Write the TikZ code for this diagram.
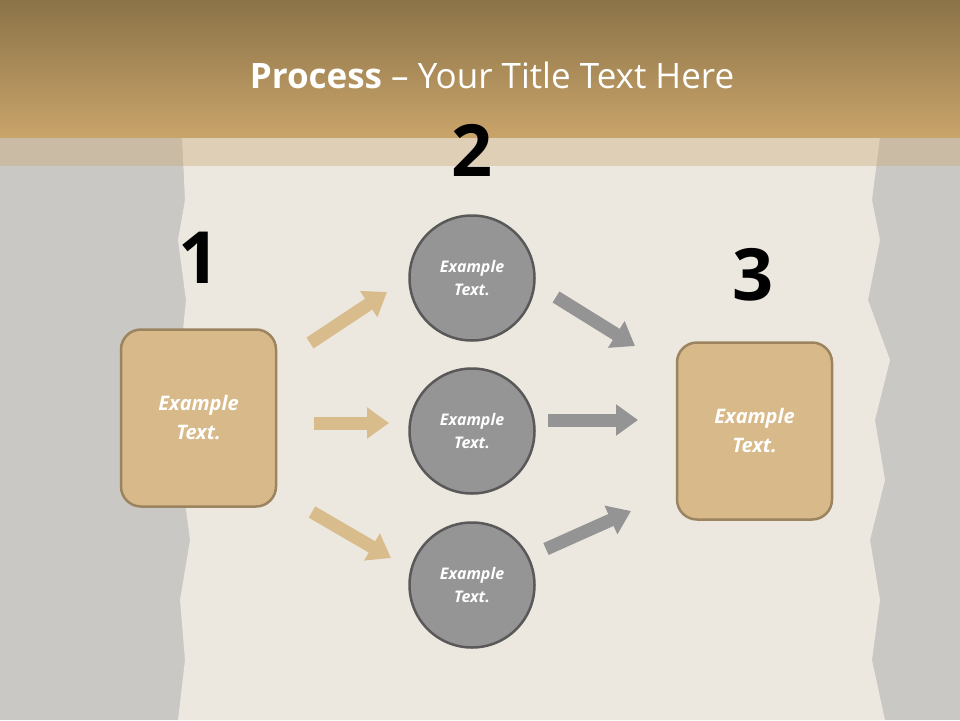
\documentclass[tikz,border=0pt]{standalone}
\usepackage{fontspec}
\setmainfont{Open Sans}
\usetikzlibrary{arrows.meta}
\definecolor{bg}{HTML}{C9C8C4}
\definecolor{paper}{HTML}{ECE7DF}
\definecolor{hdtop}{HTML}{8B7348}
\definecolor{hdbot}{HTML}{C9A46A}
\definecolor{tan}{HTML}{D8B98A}
\definecolor{tanb}{HTML}{9C8460}
\definecolor{arrtan}{HTML}{D9BC8C}
\definecolor{circ}{HTML}{959595}
\definecolor{arrg}{HTML}{949494}
\tikzset{
 box/.style={draw=tanb,line width=2.5pt,fill=tan,rounded corners=20pt,minimum width=155pt,minimum height=177pt,align=center,text=white,font=\bfseries\itshape\fontsize{20}{29}\selectfont},
 circnode/.style={circle,draw=black!65,line width=2.5pt,fill=circ,minimum size=125pt,align=center,text=white,font=\bfseries\itshape\fontsize{16}{23}\selectfont},
 num/.style={font=\bfseries\fontsize{72}{72}\selectfont},
 tarr/.style={line width=13pt,arrtan,-{Triangle[width=30pt,length=22pt]}},
 garr/.style={line width=13pt,arrg,-{Triangle[width=30pt,length=22pt]}},
}
\begin{document}
\begin{tikzpicture}[x=1pt,y=-1pt]
\fill[bg] (0,0) rectangle (960,720);
\fill[paper] (182,137) -- (185,200) -- (178,240) -- (186,300) -- (180,360) -- (188,420) -- (182,480) -- (190,540) -- (180,600) -- (185,660) -- (178,720) -- (885,720) -- (872,660) -- (880,600) -- (870,540) -- (885,480) -- (875,420) -- (890,360) -- (868,300) -- (880,240) -- (872,200) -- (880,137) -- cycle;
\shade[top color=hdtop,bottom color=hdbot] (0,0) rectangle (960,137);
\fill[hdbot,opacity=0.35] (0,137) rectangle (960,166);
\node[text=white,font=\fontsize{35}{40}\selectfont] (title) at (492,75) {\textbf{Process} -- Your Title Text Here};
\node[num] (n1) at (199,258) {1};
\node[num] (n2) at (472,150) {2};
\node[num] (n3) at (753,275) {3};
\node[box] (b1) at (198.5,418) {Example\\Text.};
\node[box] (b3) at (754.5,431) {Example\\Text.};
\node[circnode] (c1) at (472,278) {Example\\Text.};
\node[circnode] (c2) at (472,431) {Example\\Text.};
\node[circnode] (c3) at (472,585) {Example\\Text.};
\coordinate (t1s) at (310,343); \coordinate (t1e) at (387,292);
\coordinate (t2s) at (314,423); \coordinate (t2e) at (389,423);
\coordinate (t3s) at (312,512); \coordinate (t3e) at (391,558);
\coordinate (g1s) at (556,297); \coordinate (g1e) at (635,346);
\coordinate (g2s) at (548,420); \coordinate (g2e) at (638,420);
\coordinate (g3s) at (546,549); \coordinate (g3e) at (631,511);
\draw[tarr] (t1s) -- (t1e);
\draw[tarr] (t2s) -- (t2e);
\draw[tarr] (t3s) -- (t3e);
\draw[garr] (g1s) -- (g1e);
\draw[garr] (g2s) -- (g2e);
\draw[garr] (g3s) -- (g3e);
\end{tikzpicture}
\end{document}
